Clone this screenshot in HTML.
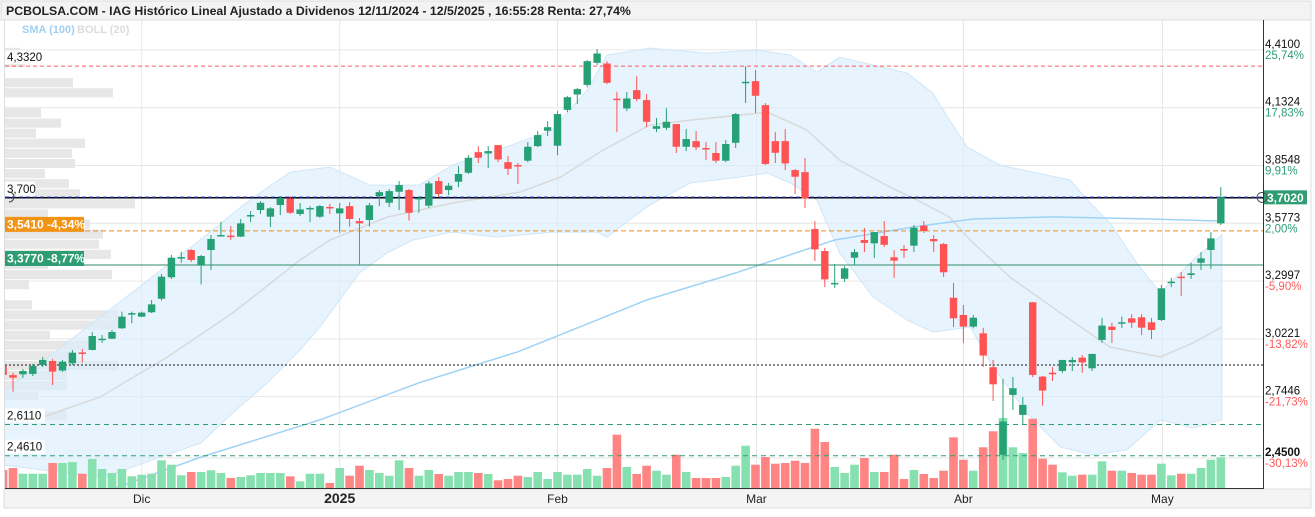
<!DOCTYPE html>
<html><head><meta charset="utf-8">
<style>
html,body{margin:0;padding:0;background:#fff;}
body{width:1315px;height:512px;overflow:hidden;font-family:"Liberation Sans",sans-serif;}
svg text{font-family:"Liberation Sans",sans-serif;}
</style></head>
<body>
<svg id="chart" width="1315" height="512" viewBox="0 0 1315 512" xmlns="http://www.w3.org/2000/svg">
  <rect x="0" y="0" width="1315" height="512" fill="#fff"/>
  <rect x="1" y="1" width="1310" height="19" fill="#f3f3f3" stroke="#dcdcdc"/>
  <text x="6" y="15" font-size="12.3" font-weight="bold" fill="#222">PCBOLSA.COM - IAG Histórico Lineal Ajustado a Dividenos 12/11/2024 - 12/5/2025 , 16:55:28 Renta: 27,74%</text>
  <rect x="4" y="489" width="1307" height="19" fill="#f4f4f4" stroke="#dcdcdc"/>
  <line x1="1311" y1="20" x2="1311" y2="508" stroke="#dcdcdc"/>
  <line x1="4.5" y1="20" x2="4.5" y2="489" stroke="#dcdcdc"/>
  <g id="grid"></g>
  <g id="plot" clip-path="url(#clipPlot)"></g>
  <defs><clipPath id="clipPlot"><rect x="5" y="20" width="1258" height="468"/></clipPath></defs>
  <g id="overlay"></g>
  <line x1="5" y1="488.5" x2="1263" y2="488.5" stroke="#333"/>
  <line x1="1263.5" y1="20" x2="1263.5" y2="489" stroke="#333"/>
  <text x="22" y="33" font-size="11" font-weight="bold" fill="#9fd0f3">SMA (100)</text>
  <text x="77" y="33" font-size="11" font-weight="bold" fill="#dcdcdc">BOLL (20)</text>
</svg>
<script>
// ---- data ----
const startIndex = -1;
const openP = [2.892,
2.848,2.852,2.854,2.897,2.916,2.870,2.905,2.957,2.969,3.021,
3.023,3.073,3.145,3.129,3.150,3.215,3.318,3.414,3.449,3.374,
3.449,3.520,3.518,3.513,3.612,3.641,3.609,3.665,3.697,3.622,
3.650,3.609,3.656,3.625,3.660,3.588,3.593,3.708,3.676,3.729,
3.737,3.694,3.662,3.780,3.737,3.777,3.820,3.919,3.913,3.953,
3.871,3.857,3.878,3.948,4.022,3.950,4.122,4.196,4.242,4.348,
4.345,4.176,4.129,4.217,4.169,4.031,4.036,4.054,3.945,3.972,
3.939,3.915,3.878,3.964,4.255,4.260,4.145,3.972,3.972,3.833,
3.823,3.550,3.444,3.288,3.311,3.412,3.497,3.481,3.516,3.414,
3.454,3.470,3.566,3.502,3.478,3.220,3.137,3.081,3.049,2.886,
2.465,2.753,2.657,3.198,2.841,2.860,2.868,2.910,2.932,2.881,
3.017,3.081,3.100,3.121,3.126,3.102,3.113,3.294,3.321,3.329,
3.388,3.449,3.577];
const closeP = [2.849,
2.836,2.868,2.892,2.921,2.865,2.913,2.956,2.955,3.036,3.023,
3.055,3.129,3.146,3.148,3.188,3.321,3.412,3.415,3.401,3.420,
3.502,3.521,3.517,3.577,3.617,3.676,3.649,3.699,3.628,3.644,
3.651,3.660,3.655,3.649,3.598,3.577,3.664,3.727,3.732,3.761,
3.628,3.699,3.769,3.718,3.758,3.814,3.892,3.892,3.924,3.884,
3.839,3.855,3.945,4.001,4.039,4.102,4.183,4.222,4.356,4.393,
4.252,4.172,4.177,4.174,4.065,4.044,4.065,3.945,3.982,3.942,
3.936,3.878,3.958,4.102,4.257,4.190,3.862,3.916,3.865,3.801,
3.697,3.452,3.308,3.291,3.361,3.439,3.483,3.535,3.474,3.398,
3.446,3.556,3.540,3.491,3.342,3.121,3.081,3.124,2.942,2.804,
2.625,2.785,2.705,2.849,2.774,2.852,2.921,2.921,2.909,2.950,
3.086,3.065,3.102,3.100,3.076,3.065,3.265,3.297,3.317,3.337,
3.409,3.505,3.702];
const highP = [2.902,
2.859,2.878,2.902,2.935,2.926,2.921,2.969,2.974,3.055,3.041,
3.065,3.153,3.153,3.153,3.209,3.334,3.425,3.441,3.454,3.425,
3.521,3.585,3.564,3.598,3.636,3.684,3.655,3.708,3.708,3.675,
3.660,3.665,3.670,3.675,3.679,3.603,3.675,3.737,3.742,3.780,
3.742,3.703,3.780,3.799,3.771,3.852,3.905,3.948,3.948,3.953,
3.900,3.867,3.967,4.020,4.068,4.116,4.188,4.227,4.361,4.414,
4.356,4.209,4.207,4.284,4.198,4.083,4.131,4.054,4.030,4.020,
3.967,3.967,3.977,4.107,4.332,4.313,4.155,4.015,4.030,3.838,
3.891,3.588,3.459,3.382,3.372,3.454,3.555,3.535,3.588,3.449,
3.473,3.569,3.588,3.521,3.483,3.291,3.185,3.137,3.075,2.921,
2.830,2.839,2.743,3.199,2.844,2.887,2.921,2.935,2.945,2.950,
3.123,3.100,3.129,3.141,3.141,3.123,3.281,3.315,3.343,3.387,
3.439,3.535,3.751];
const lowP = [2.835,
2.769,2.835,2.844,2.887,2.801,2.863,2.897,2.908,2.967,3.003,
3.021,3.070,3.097,3.127,3.146,3.206,3.310,3.388,3.391,3.284,
3.353,3.516,3.497,3.512,3.583,3.622,3.559,3.617,3.622,3.612,
3.583,3.603,3.622,3.532,3.561,3.377,3.561,3.660,3.655,3.641,
3.590,3.628,3.651,3.703,3.713,3.751,3.814,3.867,3.843,3.871,
3.809,3.766,3.871,3.943,3.996,3.905,4.111,4.150,4.231,4.337,
4.246,4.015,4.116,4.164,4.039,4.015,4.025,3.915,3.924,3.929,
3.881,3.867,3.871,3.939,4.155,4.107,3.857,3.867,3.833,3.718,
3.651,3.396,3.271,3.267,3.295,3.377,3.439,3.411,3.463,3.315,
3.411,3.439,3.531,3.439,3.319,3.079,3.003,3.073,2.887,2.724,
2.441,2.681,2.609,2.839,2.701,2.820,2.859,2.868,2.859,2.868,
3.003,3.003,3.075,3.075,3.041,3.021,3.108,3.271,3.228,3.310,
3.353,3.358,3.569];
const volume = [18,
20,14.3,14.3,14.3,25,25,26,14.3,29,19,15,19,11.7,13.3,14.3,27.7,23.3,12.7,16,16,17.7,15,10,11,12.7,15,15,15,11.7,6.7,14.3,14.3,5,
20,12.3,22.3,18,15,12.3,27.7,20,12.3,18,14,12.3,16,16,15,14,7.7,9,12.3,11,16,9,16,13.3,13.3,19,12.3,20,53.3,21,14,22.3,
17.3,13.3,33.3,16,10,10,10,11,22.3,42.3,23.3,31,24.3,25,27.3,25,59.3,46,21,15,23.3,30,16,16,33.3,9,18,14,10,17.3,50.7,28.3,
17.3,40.7,56.7,70,40.7,35,69.3,29.3,23.3,15.7,12.3,13.3,13.3,26.7,17.3,17.3,15,13.3,13.3,24.3,12.7,14.3,14.3,20,28.3,30.7];
const smaIdx = [10,19,31,41,51,64,73,83,91,97,105,115,122];
const smaVal = [2.300,2.455,2.633,2.811,2.960,3.209,3.339,3.497,3.560,3.598,3.608,3.598,3.588];
const bollUpIdx = [-1,8.8,18.9,23.9,28,32,34.3,36,41,44.4,49.5,54.5,58,60,64.3,70.1,75.2,78.5,81.2,83.5,86.9,90.3,92.9,94.6,96.4,99.7,106.8,108.5,110.8,113.5,115.9,119.2,122.1];
const bollUpVal = [2.767,3.127,3.497,3.689,3.823,3.847,3.799,3.761,3.761,3.857,3.939,4.025,4.217,4.385,4.419,4.395,4.409,4.385,4.303,4.375,4.337,4.299,4.203,4.073,3.943,3.857,3.785,3.689,3.579,3.387,3.243,3.401,3.521];
const bollLoIdx = [-1,9,19,22.2,25.7,29,31,35,37.8,40.4,44.4,48.9,54.5,59,60,61.3,64.3,68.4,73.4,76.2,78.5,81.2,83.5,86.9,90.3,92.9,96.7,99,102.4,105.8,109.1,112.5,115.9,119.2,122.1];
const bollLoVal = [2.417,2.355,2.523,2.667,2.811,2.969,3.079,3.339,3.435,3.497,3.535,3.511,3.535,3.535,3.511,3.559,3.665,3.771,3.799,3.819,3.771,3.689,3.435,3.223,3.113,3.055,3.079,2.887,2.667,2.503,2.465,2.489,2.633,2.595,2.633];
const bollMidIdx = [3,8.8,15.6,22.2,29,32,37.8,44.4,51.2,55.3,59.6,64.3,68.4,73.4,76.2,80.2,83.5,88.6,91.3,94.6,96.7,100.7,105.8,110.8,115.9,119.2,122.1];
const bollMidVal = [2.647,2.743,2.935,3.147,3.401,3.497,3.607,3.675,3.727,3.799,3.929,4.049,4.073,4.097,4.111,4.025,3.881,3.751,3.689,3.607,3.497,3.319,3.147,2.983,2.935,3.003,3.079];
const monthLabels = ["Dic","2025","Feb","Mar","Abr","May"];
const monthIdx = [13,33,55,75.1,96,116.1];
const priceTicks = [4.4100,4.1324,3.8548,3.5773,3.2997,3.0221,2.7446,2.4500];
const tickLabels = ["4,4100","4,1324","3,8548","3,5773","3,2997","3,0221","2,7446","2,4500"];
const tickPct = ["25,74%","17,83%","9,91%","2,00%","-5,90%","-13,82%","-21,73%","-30,13%"];
const vpStart = 4.42, vpStep = 0.0485;
const vpVol = [15,20,0,68,108,0,36,56,31,80,67,70,40,64,75,130,43,85,98,94,106,43,107,24,0,27,113,113,45,83,70,113,62,62,33,0,62,0];
const lastPrice = 3.702;

// ---- scales ----
const NS = "http://www.w3.org/2000/svg";
const X = i => 13 + 9.9 * i;
const Y = p => 223.3 + (3.5773 - p) * 208.2;
const VY = v => 488 - v;
const VX = v => 5 + v;
function mk(tag, attrs, parent){ const e=document.createElementNS(NS,tag); for(const k in attrs) e.setAttribute(k,attrs[k]); parent.appendChild(e); return e; }
const plot = document.getElementById('plot');
const grid = document.getElementById('grid');
const overlay = document.getElementById('overlay');

priceTicks.forEach((p,k)=>{
  const l = mk('line',{x1:5,x2:1263,y1:Y(p),y2:Y(p),stroke:'#e6e6e6'},grid);
  
  
});
monthIdx.forEach((m,k)=>{
  const l = mk('line',{x1:X(m),x2:X(m),y1:20,y2:488,stroke:'#e6e6e6'},grid);
  
  
  const t = mk('text',{x:X(m),y:503,'text-anchor':'middle','font-size':k===1?14:12,'font-weight':k===1?'bold':'normal',fill:'#222'},overlay);
  t.textContent = monthLabels[k];
  
  
});

vpVol.forEach((v,k)=>{
  if(!v) return;
  const pTop = vpStart - k*vpStep;
  const r = mk('rect',{x:5,y:Y(pTop),width:VX(v)-5,height:vpStep*208.2-1,fill:'#e3e3e3','fill-opacity':0.85},plot);
  
  
});

function pts(idx,val){ return idx.map((i,k)=>X(i).toFixed(1)+','+Y(val[k]).toFixed(1)); }
const bandPts = pts(bollUpIdx,bollUpVal).concat(pts(bollLoIdx,bollLoVal).reverse());
const band = mk('polygon',{points:bandPts.join(' '),fill:'#daeefc','fill-opacity':0.65,stroke:'#cfe6f8','stroke-width':1},plot);


const mid = mk('polyline',{points:pts(bollMidIdx,bollMidVal).join(' '),fill:'none',stroke:'#d9d9d9','stroke-width':1.5},plot);


const sma = mk('polyline',{points:pts(smaIdx,smaVal).join(' '),fill:'none',stroke:'#9fd3f6','stroke-width':1.5},plot);



volume.forEach((v,k)=>{
  const i = k + startIndex;
  const up = closeP[k] >= openP[k];
  const b = mk('rect',{x:X(i)-4.3,y:VY(v),width:8.6,height:v,fill:up?'#86e0b0':'#ff8585'},plot);
  
  
});

function hline(p,color,dash,w,name){
  const l = mk('line',{x1:5,x2:1263,y1:Y(p),y2:Y(p),stroke:color,'stroke-width':w||1},plot);
  if(dash) l.setAttribute('stroke-dasharray',dash);
  
  
}
hline(4.332,'#ff5a5a','4,3',1,'resistance-line-4332');
hline(3.700,'#000',null,1.5,'level-line-3700');
hline(3.703,'#2233cc','4,3',1,'last-price-line');
hline(3.541,'#f08c1a','5,3',1,'level-line-3541');
hline(3.377,'#2e8b6a',null,1,'level-line-3377');
hline(2.897,'#111','2,2',1,'support-dotted-line');
hline(2.611,'#2e9d74','5,4',1,'support-line-2611');
hline(2.461,'#2e9d74','5,4',1,'support-line-2461');

openP.forEach((o,k)=>{
  const i = k + startIndex, c = closeP[k], up = c >= o;
  const col = up ? '#26a075' : '#ff5252';
  const w = mk('line',{x1:X(i),x2:X(i),y1:Y(highP[k]),y2:Y(lowP[k]),stroke:col,'stroke-width':1},plot);
  
  
  const top = Math.min(Y(o),Y(c)), h = Math.max(1.5,Math.abs(Y(o)-Y(c)));
  const b = mk('rect',{x:X(i)-3.7,y:top,width:7.4,height:h,fill:col},plot);
  
  
});

priceTicks.forEach((p,k)=>{
  const y = Y(p);
  const t = mk('text',{x:1265,y:y-2,'font-size':11.5,fill:'#111','font-weight':k===7?'bold':'normal'},overlay);
  t.textContent = tickLabels[k];
  
  
  const q = mk('text',{x:1265,y:y+9,'font-size':11.5,fill:k<4?'#2e9d74':'#ff5a5a'},overlay);
  q.textContent = tickPct[k];
  
  
});
const lpBox = mk('rect',{x:1264,y:Y(lastPrice)-7,width:43,height:14,fill:'#2e9d74'},overlay);


const lpText = mk('text',{x:1267,y:Y(lastPrice)+4.5,'font-size':12,'font-weight':'bold',fill:'#fff'},overlay);
lpText.textContent = '3,7020';


const lpCirc = mk('circle',{cx:1262,cy:Y(lastPrice),r:5,fill:'none',stroke:'#555'},overlay);



function leftLabel(p,txt,bg,fg,w,name){
  const y = Y(p);
  if(bg){
    const r = mk('rect',{x:5,y:y-14,width:w,height:15,fill:bg},overlay);
    
    
  } else {
    const r = mk('rect',{x:5,y:y-16,width:w,height:14,fill:'#fff','fill-opacity':0.9},overlay);
    
    
  }
  const t = mk('text',{x:7,y:y-(bg?2.5:5),'font-size':bg?12:11.5,fill:fg,'font-weight':bg?'bold':'normal'},overlay);
  t.textContent = txt;
  
  
}
leftLabel(4.332,'4,3320',null,'#111',38,'label-4332');
leftLabel(3.700,'3,700',null,'#111',30,'label-3700');
leftLabel(3.541,'3,5410  -4,34%','#f39313','#fff',79,'label-3541');
leftLabel(3.377,'3,3770  -8,77%','#2e9d74','#fff',79,'label-3377');
leftLabel(2.611,'2,6110',null,'#111',40,'label-2611');
leftLabel(2.461,'2,4610',null,'#111',40,'label-2461');
const lc = mk('path',{d:'M9 192 A5 5 0 1 1 9 202',fill:'none',stroke:'#444'},overlay);


</script>
</body></html>
